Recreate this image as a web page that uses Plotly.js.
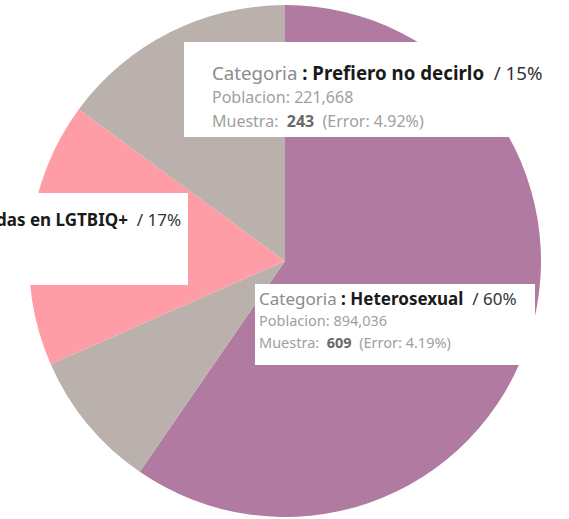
<!DOCTYPE html>
<html><head><meta charset="utf-8">
<script src="https://cdn.plot.ly/plotly-3.0.1.min.js"></script>
<style>html,body{margin:0;padding:0;background:#fff;overflow:hidden}</style>
</head><body><div id="chart" style="width:569px;height:519px"></div>
<script>
// ---- data ----
const categories = ["Heterosexual", "Otra", "Personas identificadas en LGTBIQ+", "Prefiero no decirlo"];
const shares = [59.6, 8.8, 16.7, 14.9];  // percent of total
const populations = [894036, null, null, 221668];
const samples = [609, null, null, 243];
const errors = [4.19, null, null, 4.92]; // percent

// ---- styles ----
const sliceColors = ["#b07aa1", "#bab0ac", "#ff9da7", "#bab0ac"];
const FONT = "Noto Sans, Open Sans, sans-serif";
const W = 569, H = 519;
const px = x => x / W, py = y => 1 - y / H;

function headLine(i) {
  return '<span style="color:#8c8c8c">Categoria</span>' +
    '<b style="color:#1a1a1a"> : ' + categories[i] + '</b>' +
    '<span style="color:#333">  / ' + Math.round(shares[i]) + '%</span>';
}
function popLine(i) {
  return '<span style="color:#a0a0a0">Poblacion: ' + populations[i].toLocaleString('en-US') + '</span>';
}
function sampleLine(i) {
  return '<span style="color:#a0a0a0">Muestra:  </span><b style="color:#6a6a6a">' + samples[i] +
    '</b><span style="color:#a0a0a0">  (Error: ' + errors[i].toFixed(2) + '%)</span>';
}

// tooltip boxes: [x0,y0,x1,y1] in pixels, text left x, line centers, font sizes
const tips = [
  {i: 3, box: [184, 42, 569, 137], x: 210, ys: [73, 97, 121], sizes: [18.7, 16, 16], full: true},
  {i: 0, box: [255, 284, 535, 365], x: 257, ys: [298, 320, 342], sizes: [17, 14.5, 14.5], full: true},
  {i: 2, box: [-5, 193, 188, 285], xr: 183, ys: [219], sizes: [17], full: false}
];

const shapes = tips.map(t => ({
  type: 'rect', xref: 'paper', yref: 'paper', layer: 'above',
  x0: px(t.box[0]), x1: px(t.box[2]), y0: py(t.box[3]), y1: py(t.box[1]),
  fillcolor: '#ffffff', line: {width: 0}
}));

const annotations = [];
tips.forEach(t => {
  if (t.full) {
    const lines = [headLine(t.i), popLine(t.i), sampleLine(t.i)];
    lines.forEach((txt, k) => annotations.push({
      xref: 'paper', yref: 'paper', x: px(t.x), y: py(t.ys[k]),
      xanchor: 'left', yanchor: 'middle', showarrow: false, align: 'left',
      text: txt, font: {family: FONT, size: t.sizes[k], color: '#333'}
    }));
  } else {
    annotations.push({
      xref: 'paper', yref: 'paper', x: px(t.xr), y: py(t.ys[0]),
      xanchor: 'right', yanchor: 'middle', showarrow: false, align: 'right',
      text: headLine(t.i), font: {family: FONT, size: t.sizes[0], color: '#333'}
    });
  }
});

const cx = 285, cy = 261, r = 256;
const trace = {
  type: 'pie',
  labels: categories,
  values: shares,
  sort: false,
  direction: 'clockwise',
  rotation: 0,
  textinfo: 'none',
  hoverinfo: 'none',
  marker: {colors: sliceColors, line: {width: 0}},
  domain: {x: [px(cx - r), px(cx + r)], y: [py(cy + r), py(cy - r)]},
  showlegend: false
};

Plotly.newPlot('chart', [trace], {
  width: W, height: H,
  margin: {l: 0, r: 0, t: 0, b: 0, pad: 0},
  paper_bgcolor: '#ffffff',
  showlegend: false,
  shapes: shapes,
  annotations: annotations
}, {displayModeBar: false, staticPlot: true});
</script></body></html>
